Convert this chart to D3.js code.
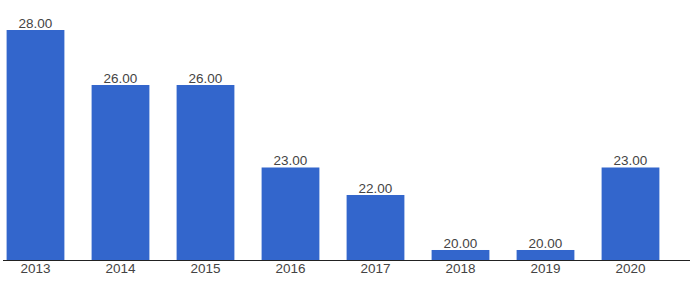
<!DOCTYPE html>
<html>
<head>
<meta charset="utf-8">
<script src="https://cdn.jsdelivr.net/npm/d3@7"></script>
<style>
  body { margin: 0; background: #fff; }
  text { font-family: "Liberation Sans", Arial, sans-serif; }
</style>
</head>
<body>
<div id="chart-area"></div>
<script>
var years = ["2013", "2014", "2015", "2016", "2017", "2018", "2019", "2020"];
var values = [28, 26, 26, 23, 22, 20, 20, 23];

var width = 696;
var height = 290;
var baseY = 260;

var svg = d3.select("#chart-area")
  .append("svg")
  .attr("width", width)
  .attr("height", height);

var xScale = d3.scaleBand()
  .domain(years)
  .range([-7, 673])
  .paddingInner(0.32)
  .paddingOuter(0.16);

var yScale = d3.scaleLinear()
  .domain([19.636, 28])
  .range([baseY, 30]);

svg.selectAll("rect.bar")
  .data(values)
  .enter().append("rect")
  .attr("class", "bar")
  .attr("x", (d, i) => xScale(years[i]))
  .attr("y", (d) => yScale(d))
  .attr("width", xScale.bandwidth())
  .attr("height", (d) => baseY - yScale(d))
  .attr("fill", "#3366cc");

svg.selectAll("text.val")
  .data(values)
  .enter().append("text")
  .attr("class", "val")
  .attr("x", (d, i) => xScale(years[i]) + xScale.bandwidth() / 2)
  .attr("y", (d) => yScale(d) - 2)
  .attr("text-anchor", "middle")
  .attr("font-size", "13.5px")
  .attr("fill", "#444")
  .text((d) => d3.format(".2f")(d));

var xAxis = d3.axisBottom(xScale).tickSize(0).tickPadding(3);
var gx = svg.append("g")
  .attr("transform", "translate(0," + baseY + ")")
  .call(xAxis);
gx.select(".domain").remove();
gx.selectAll("text")
  .attr("font-size", "13.5px")
  .attr("font-family", "Liberation Sans, Arial, sans-serif")
  .attr("fill", "#444");

svg.append("line")
  .attr("x1", 3)
  .attr("x2", 690)
  .attr("y1", baseY + 0.5)
  .attr("y2", baseY + 0.5)
  .attr("stroke", "#222")
  .attr("stroke-width", 1.2);
</script>
</body>
</html>
